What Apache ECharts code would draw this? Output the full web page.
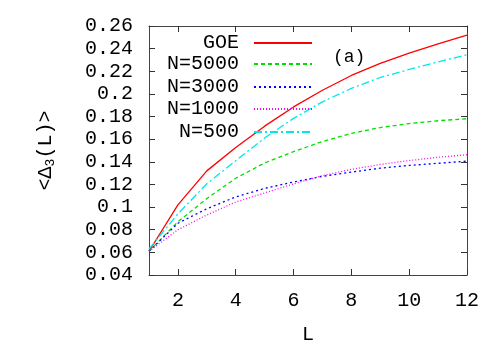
<!DOCTYPE html>
<html>
<head>
<meta charset="utf-8">
<script src="https://cdn.jsdelivr.net/npm/echarts@6/dist/echarts.min.js"></script>
<style>
  html, body { margin: 0; padding: 0; background: #fff; }
  #main { width: 500px; height: 350px; }
</style>
</head>
<body>
<div id="main"></div>
<script>
var myChart = echarts.init(document.getElementById('main'));

var L = [1, 2, 3, 4, 5, 6, 7, 8, 9, 10, 11, 12];
var goe   = [0.061, 0.102, 0.132, 0.1526, 0.1715, 0.1885, 0.2032, 0.2163, 0.227, 0.2361, 0.2442, 0.252];
var n5000 = [0.061, 0.087, 0.1075, 0.1255, 0.139, 0.149, 0.1579, 0.1651, 0.1703, 0.1738, 0.1763, 0.1781];
var n3000 = [0.061, 0.0857, 0.0985, 0.109, 0.1165, 0.1222, 0.1272, 0.1309, 0.1344, 0.1368, 0.1387, 0.1406];
var n1000 = [0.061, 0.080, 0.093, 0.1045, 0.1125, 0.1205, 0.1278, 0.1333, 0.1377, 0.1411, 0.144, 0.1463];
var n500  = [0.063, 0.094, 0.1206, 0.141, 0.161, 0.1784, 0.193, 0.2049, 0.2145, 0.2216, 0.2283, 0.2346];

var names = ['GOE', 'N=5000', 'N=3000', 'N=1000', 'N=500'];
var colors = ['#ff0000', '#00e000', '#0000ff', '#ff00ff', '#00e8e8'];
var dashes = ['solid', [4, 3], [2, 3], [1, 2], [8, 3, 2, 3]];
var xTicks = [2, 4, 6, 8, 10, 12];

var font = 'Liberation Mono';

var pairs = function (ys) {
    var res = [];
    for (var i = 0; i < L.length; i++) {
        res.push([L[i], ys[i]]);
    }
    return res;
};

var allData = [goe, n5000, n3000, n1000, n500];
var series = [];
var legends = [];
for (var i = 0; i < names.length; i++) {
    series.push({
        name: names[i],
        type: 'line',
        data: pairs(allData[i]),
        symbol: 'none',
        color: colors[i],
        lineStyle: { color: colors[i], width: 1.3, type: dashes[i] },
        animation: false
    });
    // one legend per row so the text ends flush right and the lines line up
    legends.push({
        data: [names[i]],
        right: 187,
        top: [33, 54, 77, 99, 122][i],
        padding: 0,
        align: 'right',
        itemWidth: 58,
        itemHeight: 14,
        selectedMode: false,
        itemStyle: { opacity: 0 },
        textStyle: { fontFamily: font, fontSize: 20, color: '#000', padding: [0, 10, 0, 0] }
    });
}

var tickStyle = { inside: true, length: 6, lineStyle: { color: '#333' } };
var lineStyle = { show: true, onZero: false, lineStyle: { color: '#444', width: 1 } };

option = {
    backgroundColor: '#fff',
    grid: { left: 149, right: 33, top: 26, bottom: 71 },
    legend: legends,
    graphic: [{
        type: 'text',
        left: 333,
        top: 48,
        style: { text: '(a)', fontFamily: font, fontSize: 18, fill: '#000' }
    }],
    xAxis: [{
        type: 'value',
        min: 1,
        max: 12,
        name: 'L',
        nameLocation: 'middle',
        nameGap: 50,
        nameTextStyle: { fontFamily: font, fontSize: 20, color: '#000' },
        axisLine: lineStyle,
        axisTick: { inside: true, length: 6, lineStyle: { color: '#333' }, customValues: xTicks },
        axisLabel: { customValues: xTicks, margin: 16, fontFamily: font, fontSize: 20, color: '#000' },
        splitLine: { show: false }
    }, {
        type: 'value',
        position: 'top',
        min: 1,
        max: 12,
        axisLine: lineStyle,
        axisTick: { inside: true, length: 6, lineStyle: { color: '#333' }, customValues: xTicks },
        axisLabel: { show: false },
        splitLine: { show: false }
    }],
    yAxis: [{
        type: 'value',
        min: 0.04,
        max: 0.26,
        interval: 0.02,
        name: '<Δ{s|3}(L)>',
        nameLocation: 'middle',
        nameGap: 92,
        nameTextStyle: {
            fontFamily: font, fontSize: 20, color: '#000',
            rich: { s: { fontFamily: font, fontSize: 13, color: '#000', padding: [10, 0, 0, 0] } }
        },
        axisLine: lineStyle,
        axisTick: tickStyle,
        axisLabel: {
            margin: 16, fontFamily: font, fontSize: 20, color: '#000',
            formatter: function (v) { return String(+v.toFixed(2)); }
        },
        splitLine: { show: false }
    }, {
        type: 'value',
        position: 'right',
        min: 0.04,
        max: 0.26,
        interval: 0.02,
        axisLine: lineStyle,
        axisTick: tickStyle,
        axisLabel: { show: false },
        splitLine: { show: false }
    }],
    series: series
};

myChart.setOption(option);
</script>
</body>
</html>
